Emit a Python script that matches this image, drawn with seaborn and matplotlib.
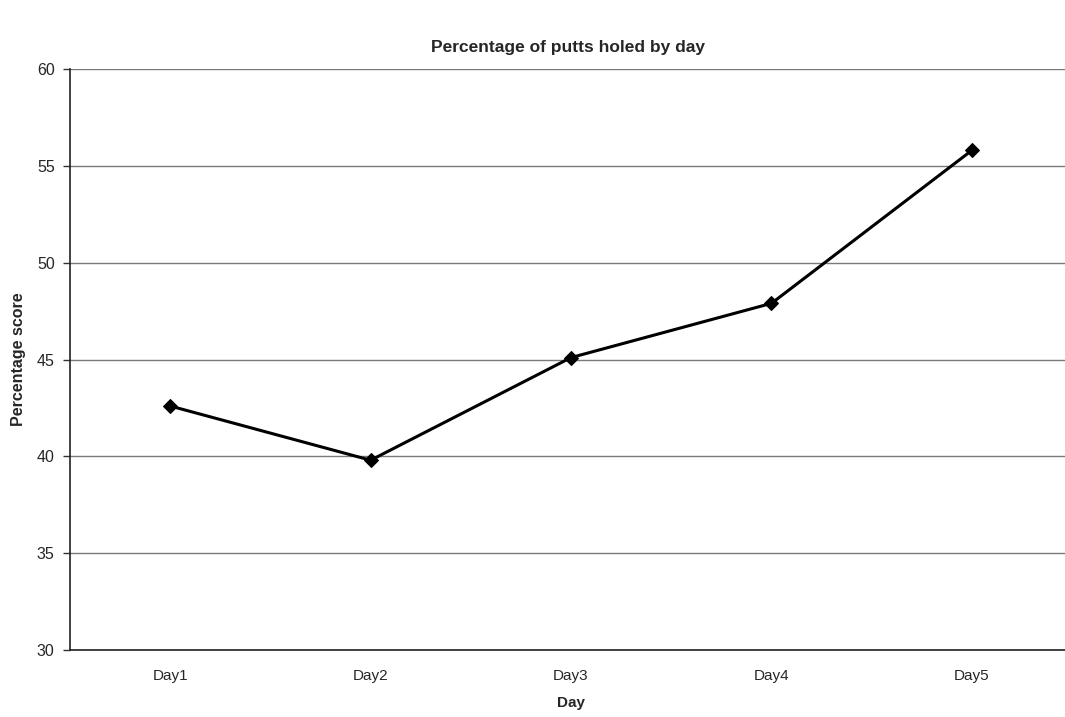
import matplotlib
matplotlib.use("Agg")
import matplotlib.pyplot as plt
import seaborn as sns
import pandas as pd
from matplotlib.ticker import FixedLocator

days = ["Day1", "Day2", "Day3", "Day4", "Day5"]
pct_holed = [42.6, 39.8, 45.1, 47.9, 55.8]
y_ticks = [30, 35, 40, 45, 50, 55, 60]

sns.set_style("white")
plt.rcParams["font.family"] = ["Liberation Sans", "DejaVu Sans"]

df = pd.DataFrame({"Day": days, "Percentage score": pct_holed})

fig = plt.figure(figsize=(10.65, 7.17), dpi=100)
ax = fig.add_axes([0.0657, 0.0934, 0.941, 0.8104])

sns.lineplot(data=df, x="Day", y="Percentage score", ax=ax, color="black",
             linewidth=2.2, marker="D", markersize=7, markeredgecolor="black",
             sort=False)

ax.set_ylim(30, 60)
ax.set_xlim(-0.5, len(days) - 0.5)
ax.set_yticks(y_ticks)
ax.yaxis.grid(True, color="#7a7a7a", linewidth=1)
ax.set_axisbelow(True)

ax.xaxis.set_minor_locator(FixedLocator([i + 0.5 for i in range(len(days) - 1)]))
ax.tick_params(axis="x", which="major", length=0, pad=14, labelsize=11)
ax.tick_params(axis="x", which="minor", length=5, width=1, color="#333333", direction="out")
ax.tick_params(axis="y", which="major", length=5, width=1, color="#333333",
               direction="out", labelsize=11.5, left=True, pad=6)

for side in ["top", "right"]:
    ax.spines[side].set_visible(False)
for side in ["left", "bottom"]:
    ax.spines[side].set_color("#222222")
    ax.spines[side].set_linewidth(1.2)

ax.set_xlabel("Day", fontsize=11, fontweight="bold", labelpad=9)
ax.set_ylabel("Percentage score", fontsize=11.5, fontweight="bold", labelpad=8)
fig.text(0.533, 0.927, "Percentage of putts holed by day", ha="center",
         fontsize=12.5, fontweight="bold")

fig.savefig("out.png", dpi=100)
